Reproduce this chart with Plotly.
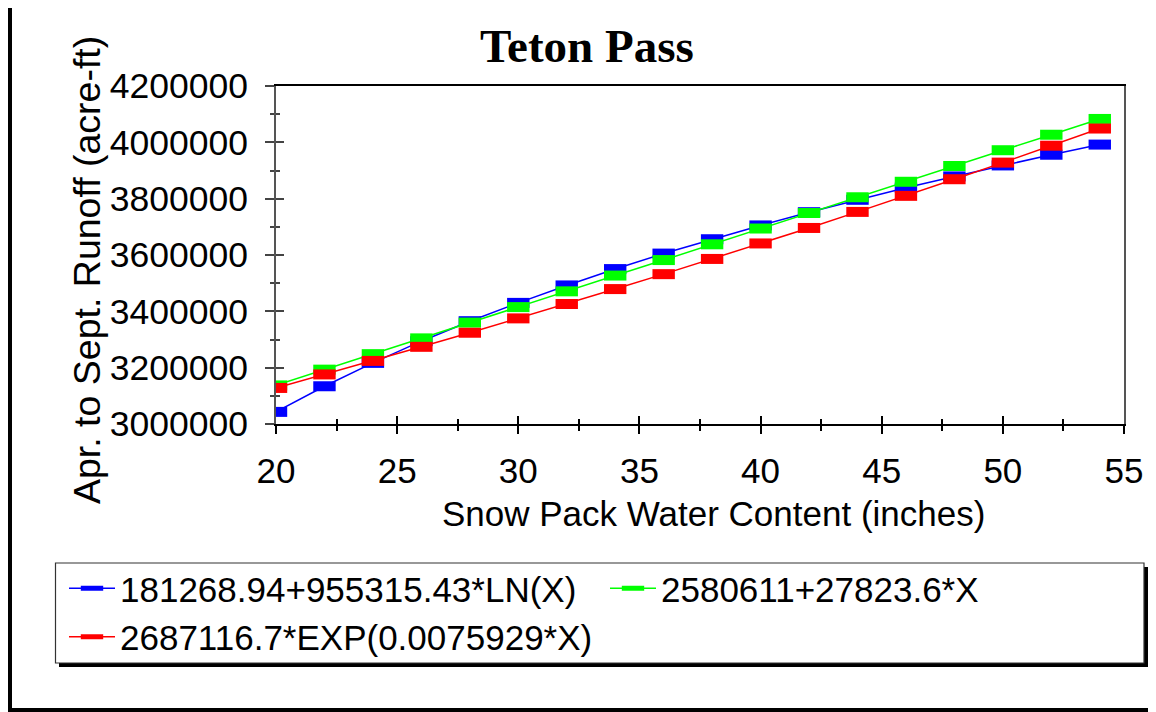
import plotly.graph_objects as go

# ---- data ----
snow_in = [20, 22, 24, 26, 28, 30, 32, 34, 36, 38, 40, 42, 44, 46, 48, 50, 52, 54]
runoff_ln = [3043000, 3134000, 3217000, 3294000, 3365000, 3430000, 3492000, 3550000, 3605000,
             3656000, 3705000, 3752000, 3796000, 3839000, 3879000, 3918000, 3956000, 3992000]
runoff_lin = [3137000, 3193000, 3248000, 3304000, 3360000, 3415000, 3471000, 3527000, 3582000,
              3638000, 3694000, 3749000, 3805000, 3860000, 3916000, 3972000, 4027000, 4083000]
runoff_exp = [3128000, 3176000, 3224000, 3274000, 3324000, 3375000, 3426000, 3479000, 3532000,
              3586000, 3641000, 3696000, 3753000, 3810000, 3869000, 3928000, 3988000, 4049000]
series_names = ["181268.94+955315.43*LN(X)", "2580611+27823.6*X", "2687116.7*EXP(0.0075929*X)"]
series_colors = ["#0000FF", "#00FF00", "#FF0000"]

title_text = "Teton Pass"
x_title = "Snow Pack Water Content (inches)"
y_title = "Apr. to Sept. Runoff (acre-ft)"

# ---- layout geometry (page pixels; the page body adds an 8px offset) ----
PAGE_W, PAGE_H = 1156, 712
OFF = 8
FIG_W, FIG_H = PAGE_W - OFF, PAGE_H - OFF
L, R, T, B = 276, 1124, 86, 424


def fx(p):
    return (p - L) / (R - L)


def fy(p):
    return (B - p) / (B - T)


SANS = "Liberation Sans"
SERIF = "Liberation Serif"

fig = go.Figure()
for name, ys, c in zip(series_names, [runoff_ln, runoff_lin, runoff_exp], series_colors):
    fig.add_trace(go.Scatter(
        x=snow_in, y=ys, name=name, mode="lines+markers",
        line=dict(color=c, width=1.5),
        marker=dict(symbol="line-ew", size=16, color=c, line=dict(color=c, width=10)),
    ))
# empty trace so the overlay axes (inner tick halves) are drawn
fig.add_trace(go.Scatter(x=[], y=[], xaxis="x2", yaxis="y2", showlegend=False, hoverinfo="skip"))

tickfont_x = dict(family=SANS, size=35, color="black")
tickfont_y = dict(family=SANS, size=35.5, color="black")

fig.update_layout(
    width=FIG_W, height=FIG_H,
    margin=dict(l=L - OFF, r=PAGE_W - R, t=T - OFF, b=PAGE_H - B, autoexpand=False),
    paper_bgcolor="white", plot_bgcolor="white",
    showlegend=True,
    xaxis=dict(
        range=[20, 55], tick0=20, dtick=5, ticks="outside", ticklen=8, tickwidth=1.5,
        tickcolor="black", showline=True, linecolor="black", linewidth=1.5, mirror=True,
        showgrid=False, zeroline=False, tickfont=tickfont_x, ticklabelstandoff=7,
        minor=dict(dtick=2.5, ticks="outside", ticklen=5, tickwidth=1.5, tickcolor="black", showgrid=False),
    ),
    xaxis2=dict(
        overlaying="x", anchor="y", side="bottom", range=[20, 55], tick0=20, dtick=5,
        ticks="inside", ticklen=8, tickwidth=1.5, tickcolor="black", showticklabels=False,
        showline=False, showgrid=False, zeroline=False,
        minor=dict(dtick=2.5, ticks="inside", ticklen=5, tickwidth=1.5, tickcolor="black", showgrid=False),
    ),
    yaxis=dict(
        range=[3000000, 4200000], tick0=3000000, dtick=200000, tickformat="d",
        ticks="outside", ticklen=9, tickwidth=1.5, tickcolor="#444444",
        showline=True, linecolor="#555555", linewidth=2, mirror=True,
        showgrid=False, zeroline=False, tickfont=tickfont_y, ticklabelstandoff=10,
        minor=dict(dtick=100000, ticks="outside", ticklen=4, tickwidth=1.5, tickcolor="#444444", showgrid=False),
    ),
    yaxis2=dict(
        overlaying="y", anchor="x", side="left", range=[3000000, 4200000], tick0=3000000, dtick=200000,
        ticks="inside", ticklen=8, tickwidth=1.5, tickcolor="#444444", showticklabels=False,
        showline=False, showgrid=False, zeroline=False,
        minor=dict(dtick=100000, ticks="inside", ticklen=4, tickwidth=1.5, tickcolor="#444444", showgrid=False),
    ),
    legend=dict(
        orientation="h", xref="paper", yref="paper",
        x=fx(64), y=fy(559), xanchor="left", yanchor="top",
        font=dict(family=SANS, size=35, color="black"),
        bgcolor="rgba(0,0,0,0)", borderwidth=0,
        entrywidth=480, entrywidthmode="pixels", itemwidth=46,
    ),
)

# title and axis titles
fig.add_annotation(text="<b>" + title_text + "</b>", xref="paper", yref="paper",
                   x=fx(587), y=fy(46), xanchor="center", yanchor="middle", showarrow=False,
                   font=dict(family=SERIF, size=47, color="black"))
fig.add_annotation(text=x_title, xref="paper", yref="paper",
                   x=fx(713), y=fy(513), xanchor="center", yanchor="middle", showarrow=False,
                   font=dict(family=SANS, size=35, color="black"))
fig.add_annotation(text=y_title, xref="paper", yref="paper", textangle=-90,
                   x=fx(87), y=fy(270), xanchor="center", yanchor="middle", showarrow=False,
                   font=dict(family=SANS, size=37.5, color="black"))

# outer frame, legend box with shadow
fig.add_shape(type="rect", xref="paper", yref="paper",
              x0=fx(10), x1=fx(1165), y0=fy(6), y1=fy(710),
              line=dict(color="black", width=4), fillcolor="rgba(0,0,0,0)", layer="above")
fig.add_shape(type="rect", xref="paper", yref="paper",
              x0=fx(59), x1=fx(1148), y0=fy(567), y1=fy(667),
              line=dict(width=0), fillcolor="black", layer="above")
fig.add_shape(type="rect", xref="paper", yref="paper",
              x0=fx(55.5), x1=fx(1144), y0=fy(563), y1=fy(663),
              line=dict(color="#333333", width=1.2), fillcolor="white", layer="above")

fig.write_html("out.html")
